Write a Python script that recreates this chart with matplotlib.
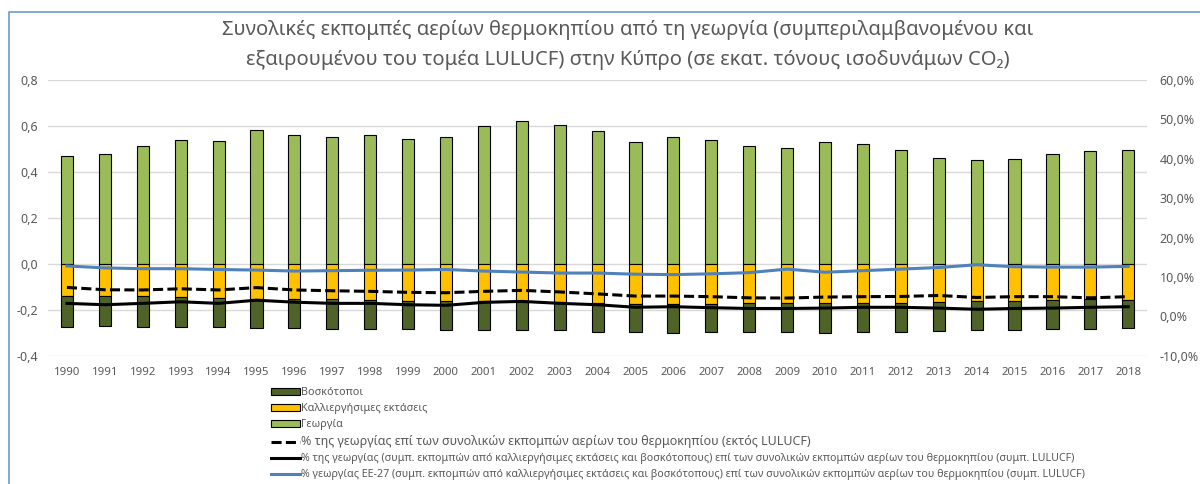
import matplotlib
matplotlib.use('Agg')
import matplotlib.pyplot as plt
from matplotlib.patches import Patch, Rectangle
from matplotlib.lines import Line2D
from matplotlib.ticker import FuncFormatter, MultipleLocator
import numpy as np

plt.rcParams['font.family'] = ['Noto Sans', 'DejaVu Sans']

years = [str(y) for y in range(1990, 2019)]

# emissions, Mt CO2 eq
georgia = [0.47, 0.478, 0.513, 0.54, 0.533, 0.581, 0.563, 0.55, 0.56, 0.545,
           0.55, 0.60, 0.62, 0.605, 0.58, 0.53, 0.55, 0.54, 0.515, 0.505,
           0.53, 0.52, 0.495, 0.46, 0.45, 0.455, 0.48, 0.49, 0.495]
kalliergisimes = [-0.139, -0.139, -0.14, -0.145, -0.148, -0.154, -0.152, -0.155, -0.158, -0.16,
                  -0.161, -0.163, -0.164, -0.167, -0.169, -0.174, -0.174, -0.176, -0.171, -0.17,
                  -0.171, -0.171, -0.17, -0.166, -0.161, -0.161, -0.158, -0.155, -0.157]
boskotopoi = [-0.135, -0.132, -0.134, -0.132, -0.129, -0.126, -0.128, -0.128, -0.125, -0.125,
              -0.127, -0.125, -0.126, -0.123, -0.126, -0.122, -0.125, -0.120, -0.125, -0.128,
              -0.128, -0.124, -0.125, -0.126, -0.127, -0.126, -0.125, -0.128, -0.122]

# shares, %
pct_excl_lulucf = [7.35, 6.75, 6.7, 7.0, 6.7, 7.3, 6.7, 6.5, 6.35, 6.1,
                   6.0, 6.35, 6.6, 6.2, 5.7, 5.15, 5.15, 5.0, 4.7, 4.65,
                   4.9, 5.0, 5.05, 5.3, 4.8, 5.0, 5.0, 4.7, 5.0]
pct_incl_lulucf = [3.3, 2.95, 3.3, 3.7, 3.3, 4.1, 3.6, 3.3, 3.3, 2.95,
                   2.8, 3.55, 3.8, 3.3, 2.95, 2.3, 2.45, 2.2, 2.0, 2.0,
                   2.1, 2.3, 2.3, 2.1, 1.8, 2.0, 2.1, 2.3, 2.45]
pct_eu27 = [12.8, 12.3, 12.1, 12.1, 11.9, 11.75, 11.5, 11.6, 11.7, 11.75,
            11.9, 11.5, 11.25, 11.0, 11.0, 10.7, 10.6, 10.8, 11.1, 12.0,
            11.2, 11.6, 12.0, 12.4, 13.1, 12.6, 12.5, 12.5, 12.7]

labels = ['Βοσκότοποι',
          'Καλλιεργήσιμες εκτάσεις',
          'Γεωργία',
          '% της γεωργίας επί των συνολικών εκπομπών αερίων του θερμοκηπίου (εκτός LULUCF)',
          '% της γεωργίας (συμπ. εκπομπών από καλλιεργήσιμες εκτάσεις και βοσκότοπους) επί των συνολικών εκπομπών αερίων του θερμοκηπίου (συμπ. LULUCF)',
          '% γεωργίας ΕΕ-27 (συμπ. εκπομπών από καλλιεργήσιμες εκτάσεις και βοσκότοπους) επί των συνολικών εκπομπών αερίων του θερμοκηπίου (συμπ. LULUCF)']

c_dark = '#4F6228'
c_yel = '#FFC000'
c_grn = '#9BBB59'
c_blue = '#4F81BD'
grey = '#595959'

fig = plt.figure(figsize=(12, 4.84), dpi=100)
ax = fig.add_axes([0.04, 0.265, 0.916, 0.5696])
ax2 = ax.twinx()

x = np.arange(len(years))
w = 0.32
ax.bar(x, georgia, w, color=c_grn, edgecolor='black', linewidth=0.8, zorder=2)
ax.bar(x, kalliergisimes, w, color=c_yel, edgecolor='black', linewidth=0.8, zorder=2)
ax.bar(x, boskotopoi, w, bottom=kalliergisimes, color=c_dark, edgecolor='black', linewidth=0.8, zorder=2)

ax2.plot(x, pct_excl_lulucf, color='black', lw=2.2, ls=(0, (3.3, 1.4)))
ax2.plot(x, pct_incl_lulucf, color='black', lw=2.2)
ax2.plot(x, pct_eu27, color=c_blue, lw=2.2)

ax.set_xlim(-0.5, len(years) - 0.5)
ax.set_ylim(-0.4, 0.8)
ax2.set_ylim(-10, 60)
ax.yaxis.set_major_locator(MultipleLocator(0.2))
ax2.yaxis.set_major_locator(MultipleLocator(10))
ax.set_xticks(x)
ax.set_xticklabels(years)
ax.yaxis.set_major_formatter(FuncFormatter(lambda v, p: f'{v:.1f}'.replace('.', ',').replace('-0,0', '0,0')))
ax2.yaxis.set_major_formatter(FuncFormatter(lambda v, p: f'{v:.1f}%'.replace('.', ',')))
ax.grid(axis='y', color='#D9D9D9', lw=1, zorder=0)
ax.set_axisbelow(True)
for a in (ax, ax2):
    for s in a.spines.values():
        s.set_visible(False)
ax.tick_params(axis='both', length=0, colors=grey, labelsize=9)
ax.tick_params(axis='x', pad=8, labelsize=8.2)
ax.tick_params(axis='y', pad=7)
ax2.tick_params(axis='y', length=0, colors=grey, labelsize=9, pad=9)

fig.text(0.523, 1 - 30 / 484, 'Συνολικές εκπομπές αερίων θερμοκηπίου από τη γεωργία (συμπεριλαμβανομένου και',
         ha='center', va='center', fontsize=14.5, color=grey)
fig.text(0.523, 1 - 60 / 484, 'εξαιρουμένου του τομέα LULUCF) στην Κύπρο (σε εκατ. τόνους ισοδυνάμων CO₂)',
         ha='center', va='center', fontsize=14.5, color=grey)

handles = [Patch(facecolor=c_dark, edgecolor='black', linewidth=0.8),
           Patch(facecolor=c_yel, edgecolor='black', linewidth=0.8),
           Patch(facecolor=c_grn, edgecolor='black', linewidth=0.8),
           Line2D([], [], color='black', lw=2.2, ls=(0, (3.3, 1.4))),
           Line2D([], [], color='black', lw=2.2),
           Line2D([], [], color=c_blue, lw=2.2)]
leg = fig.legend(handles, labels, loc='upper left', bbox_to_anchor=(271 / 1200, 1 - 387 / 484),
                 frameon=False, fontsize=7.8, labelspacing=0.47, handlelength=2.7, handleheight=0.6,
                 handletextpad=0.1, borderpad=0, borderaxespad=0)
for t in leg.get_texts():
    t.set_color(grey)
leg.get_texts()[3].set_fontsize(9)
leg.get_texts()[4].set_fontsize(7.7)
leg.get_texts()[5].set_fontsize(7.7)

fig.patches.append(Rectangle((9 / 1200, -0.1), 1.2, 1 - 12 / 484 + 0.1, transform=fig.transFigure,
                             fill=False, edgecolor='#6C9BD2', lw=1.2))

fig.savefig('out.png', dpi=100)
